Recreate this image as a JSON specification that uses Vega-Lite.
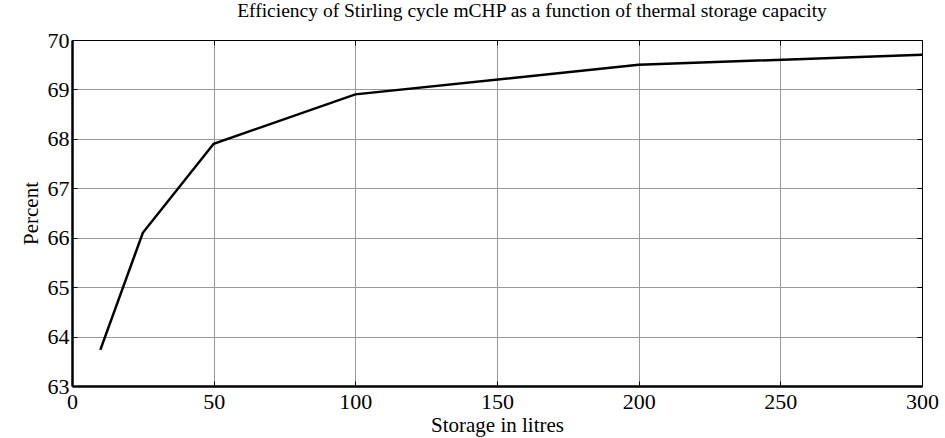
{
  "$schema": "https://vega.github.io/schema/vega-lite/v6.json",
  "width": 850,
  "height": 346,
  "autosize": {"type": "none"},
  "padding": {"left": 72, "top": 40, "right": 23, "bottom": 52},
  "background": "white",
  "title": {"text": "Efficiency of Stirling cycle mCHP as a function of thermal storage capacity", "font": "Liberation Serif", "fontSize": 19.5, "fontWeight": "normal", "color": "black", "offset": 8, "dx": 35},
  "config": {
    "font": "Liberation Serif",
    "view": {"stroke": "black", "strokeWidth": 1},
    "axis": {"labelFont": "Liberation Serif", "titleFont": "Liberation Serif", "labelColor": "black", "titleColor": "black", "titleFontWeight": "normal"}
  },
  "data": {"values": [
    {"storage": 10, "pct": 63.73},
    {"storage": 25, "pct": 66.1},
    {"storage": 50, "pct": 67.9},
    {"storage": 100, "pct": 68.9},
    {"storage": 200, "pct": 69.5},
    {"storage": 300, "pct": 69.7}
  ]},
  "layer": [
    {
      "mark": {"type": "line", "color": "black", "strokeWidth": 2.5},
      "encoding": {
        "x": {"field": "storage", "type": "quantitative", "scale": {"domain": [0, 300], "nice": false},
          "axis": {"title": "Storage in litres", "titleFont": "Liberation Serif", "labelFont": "Liberation Serif", "titleFontSize": 21, "titlePadding": 2, "labelFontSize": 22, "values": [0,50,100,150,200,250,300], "tickSize": -5, "tickColor": "black", "labelPadding": 10, "domainColor": "black", "domainWidth": 2.5, "grid": true, "gridColor": "#999", "gridWidth": 1, "gridOpacity": 1, "labelFlush": false}},
        "y": {"field": "pct", "type": "quantitative", "scale": {"domain": [63, 70], "nice": false, "zero": false},
          "axis": {"title": "Percent", "titleFont": "Liberation Serif", "labelFont": "Liberation Serif", "titleFontSize": 21, "titlePadding": 6, "labelFontSize": 22, "values": [63,64,65,66,67,68,69,70], "tickSize": -5, "tickColor": "black", "labelPadding": 8, "domainColor": "black", "domainWidth": 2.5, "grid": true, "gridColor": "#999", "gridWidth": 1, "gridOpacity": 1, "labelFlush": false}}
      }
    },
    {
      "mark": {"type": "line", "opacity": 0},
      "encoding": {
        "x": {"field": "storage", "type": "quantitative", "scale": {"domain": [0, 300], "nice": false},
          "axis": {"orient": "top", "title": null, "labels": false, "values": [0,50,100,150,200,250,300], "tickSize": -5, "tickColor": "black", "domainColor": "black", "grid": false}},
        "y": {"field": "pct", "type": "quantitative", "scale": {"domain": [63, 70], "nice": false, "zero": false},
          "axis": {"orient": "right", "title": null, "labels": false, "values": [63,64,65,66,67,68,69,70], "tickSize": -5, "tickColor": "black", "domainColor": "black", "grid": false}}
      }
    }
  ],
  "resolve": {"axis": {"x": "independent", "y": "independent"}}
}
